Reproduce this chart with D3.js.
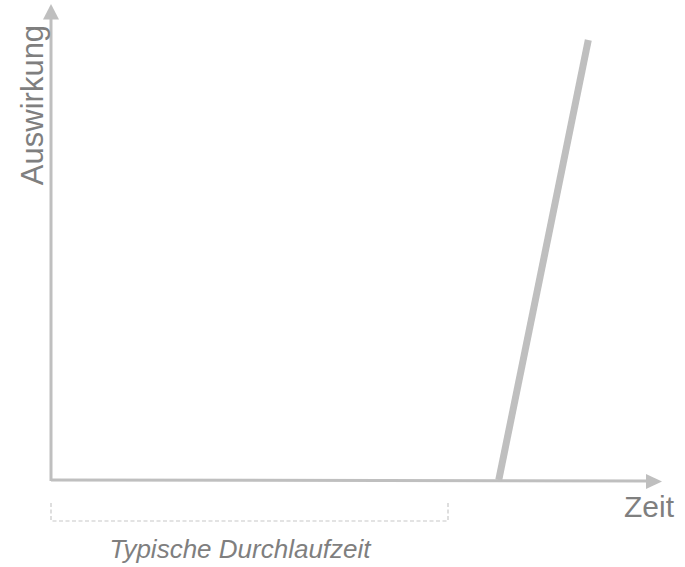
<!DOCTYPE html>
<html>
<head>
<meta charset="utf-8">
<script src="https://cdn.jsdelivr.net/npm/d3@7"></script>
<style>
  html, body { margin: 0; padding: 0; background: #fff; }
  svg { display: block; font-family: "Liberation Sans", Arial, sans-serif; }
</style>
</head>
<body>
<div id="chart"></div>
<script>
// data
const zeit = [75, 90];            // x of the impact line (start, end)
const auswirkung = [0, 100];      // y of the impact line
const durchlaufzeit = [0, 66.5];  // typical lead time span
const labels = { x: "Zeit", y: "Auswirkung", span: "Typische Durchlaufzeit" };

const width = 685, height = 567
    , origin = { x: 51, y: 480 }
    , axisColor = "#bfbfbf"
    , textColor = "#7f7f7f"
    , xScale = d3.scaleLinear().domain([0, 100]).range([origin.x, 648])
    , yScale = d3.scaleLinear().domain([0, 100]).range([origin.y, 40]);

const svg = d3.select("#chart")
    .append("svg")
    .attr("width", width)
    .attr("height", height);

// axes
svg.append("line")
    .attr("x1", origin.x).attr("y1", origin.y)
    .attr("x2", 650).attr("y2", origin.y + 1)
    .attr("stroke", axisColor).attr("stroke-width", 3);
svg.append("path")
    .attr("d", "M646,474 L662,481.5 L646,489 Z")
    .attr("fill", axisColor);

svg.append("line")
    .attr("x1", origin.x).attr("y1", origin.y + 1)
    .attr("x2", origin.x).attr("y2", 16)
    .attr("stroke", axisColor).attr("stroke-width", 3);
svg.append("path")
    .attr("d", "M43,19.5 L51,4 L59,19.5 Z")
    .attr("fill", axisColor);

// impact line
const line = d3.line()
    .x(d => xScale(d[0]))
    .y(d => yScale(d[1]));
svg.append("path")
    .datum(d3.zip(zeit, auswirkung))
    .attr("d", line)
    .attr("fill", "none")
    .attr("stroke", axisColor)
    .attr("stroke-width", 7);

// bracket for typical lead time
const bx0 = xScale(durchlaufzeit[0]), bx1 = xScale(durchlaufzeit[1]);
svg.append("path")
    .attr("d", `M${bx0},503 L${bx0},521 L${bx1},521 L${bx1},503`)
    .attr("fill", "none")
    .attr("stroke", "#c8c8c8")
    .attr("stroke-width", 1.2)
    .attr("stroke-dasharray", "4,2.5");

// labels
svg.append("text")
    .attr("x", 674).attr("y", 517)
    .attr("text-anchor", "end")
    .attr("font-size", 30)
    .attr("fill", textColor)
    .text(labels.x);

svg.append("text")
    .attr("transform", "translate(43,105) rotate(-90)")
    .attr("text-anchor", "middle")
    .attr("font-size", 31)
    .attr("fill", textColor)
    .text(labels.y);

svg.append("text")
    .attr("x", 240).attr("y", 558)
    .attr("text-anchor", "middle")
    .attr("font-size", 26)
    .attr("font-style", "italic")
    .attr("fill", textColor)
    .text(labels.span);
</script>
</body>
</html>
